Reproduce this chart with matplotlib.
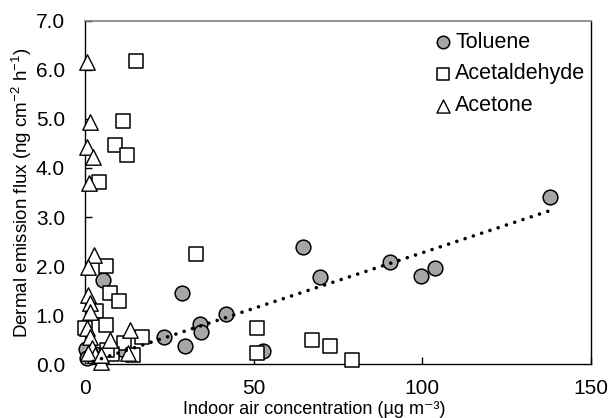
import matplotlib
matplotlib.use("Agg")
import matplotlib.pyplot as plt
import numpy as np

plt.rcParams['font.family'] = ['Liberation Sans', 'DejaVu Sans']
plt.rcParams['mathtext.fontset'] = 'custom'
plt.rcParams['mathtext.rm'] = 'Liberation Sans'

toluene_x = [138.0, 90.6, 99.6, 103.8, 64.6, 69.8, 28.9, 41.9, 34.0, 34.3, 29.8, 23.4, 52.8, 5.5,
             0.3, 0.5, 3.0, 8.0, 11.0]
toluene_y = [3.40, 2.09, 1.80, 1.96, 2.39, 1.78, 1.46, 1.03, 0.81, 0.65, 0.37, 0.56, 0.27, 1.71,
             0.30, 0.13, 0.20, 0.25, 0.30]

acetaldehyde_x = [15.1, 11.3, 8.9, 12.6, 4.1, 32.8, 6.1, 7.4, 10.1, 3.3, 0.0, 6.1, 51.1, 16.8,
                  11.6, 14.3, 7.9, 51.1, 67.3, 72.7, 79.1, 6.4]
acetaldehyde_y = [6.18, 4.96, 4.47, 4.27, 3.71, 2.24, 2.01, 1.44, 1.29, 1.08, 0.74, 0.80, 0.73, 0.56,
                  0.43, 0.18, 0.20, 0.22, 0.49, 0.37, 0.08, 0.29]

acetone_x = [0.7, 1.5, 0.7, 2.5, 1.3, 2.8, 0.8, 0.8, 1.5, 1.5, 0.5, 1.5, 13.3, 7.4, 12.8, 4.9,
             2.0, 3.0, 1.0, 4.9]
acetone_y = [6.17, 4.94, 4.43, 4.23, 3.69, 2.22, 1.99, 1.41, 1.24, 1.07, 0.73, 0.56, 0.69, 0.49,
             0.22, 0.05, 0.32, 0.18, 0.22, 0.18]

trend_slope = 0.0227
trend_intercept = 0.0
trend_x_range = [0.0, 138.0]

fig = plt.figure(figsize=(6.11, 4.18), dpi=100)
ax = fig.add_axes([0.139, 0.129, 0.828, 0.821])

ms = 112
ax.scatter(toluene_x, toluene_y, s=ms, marker='o', facecolor='#a6a6a6', edgecolor='black',
           linewidth=1.1, label='Toluene', zorder=3, clip_on=False)
ax.scatter(acetaldehyde_x, acetaldehyde_y, s=ms, marker='s', facecolor='white', edgecolor='black',
           linewidth=1.1, label='Acetaldehyde', zorder=3, clip_on=False)
ax.scatter(acetone_x, acetone_y, s=ms*1.1, marker='^', facecolor='white', edgecolor='black',
           linewidth=1.0, label='Acetone', zorder=3, clip_on=False)

tx = np.array(trend_x_range)
ax.plot(tx, trend_slope * tx + trend_intercept, color='black', linewidth=2.6,
        linestyle=(0, (0.01, 2.4)), dash_capstyle='round', zorder=4)

ax.set_xlim(0, 150)
ax.set_ylim(0, 7)
ax.set_xticks([0, 50, 100, 150])
ax.set_yticks(np.arange(0, 7.01, 1.0))
ax.set_yticklabels([f'{v:.1f}' for v in np.arange(0, 7.01, 1.0)])
ax.tick_params(direction='in', labelsize=15, length=5, width=1, pad=14.4)
ax.tick_params(axis='x', pad=11)

for s in ['left', 'bottom', 'right']:
    ax.spines[s].set_color('black')
    ax.spines[s].set_linewidth(1.0)
ax.spines['top'].set_color('#808080')
ax.spines['top'].set_linewidth(1.2)

ax.set_xlabel('Indoor air concentration (µg m\u207b\u00b3)', fontsize=13)
ax.xaxis.label.set_va('bottom')
ax.xaxis.set_label_coords(0.4526, -0.156)
ax.set_ylabel(r'Dermal emission flux (ng cm$\mathregular{^{-2}}$ h$\mathregular{^{-1}}$)', fontsize=13.5,
              labelpad=1.5)

leg = ax.legend(loc='upper right', bbox_to_anchor=(1.01, 1.0), frameon=False, fontsize=15.5,
                handletextpad=0.08, markerscale=0.85, labelspacing=0.5, handlelength=1.0,
                borderaxespad=0.1)

fig.savefig('out.png', dpi=100)
